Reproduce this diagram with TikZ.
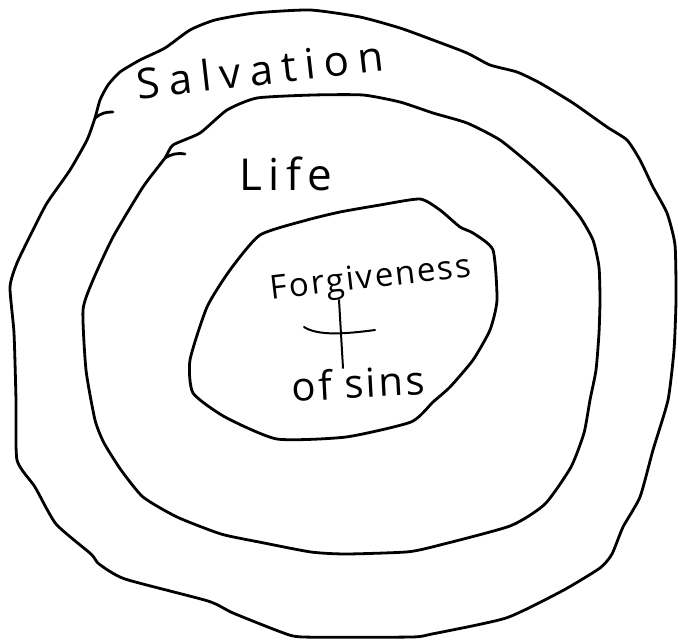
\documentclass[tikz,border=0pt]{standalone}
\usepackage{fontspec}
\setmainfont{Open Sans}
\usepackage{tikz}
\newcommand{\bigHand}{\fontsize{42}{48}\selectfont\addfontfeature{LetterSpace=21}}
\newcommand{\lifeHand}{\fontsize{44}{50}\selectfont\addfontfeature{LetterSpace=14}}
\newcommand{\forgHand}{\fontsize{33}{38}\selectfont\addfontfeature{LetterSpace=6}}
\newcommand{\sinsHand}{\fontsize{40}{46}\selectfont\addfontfeature{LetterSpace=6}}

\begin{document}
\begin{tikzpicture}[x=1pt,y=-1pt,
  pen/.style={line width=2.8pt,line join=round,line cap=round},
  hand/.style={inner sep=0pt,anchor=base,transform shape}]
\useasboundingbox (0,0) rectangle (678,641);

% ---------- outer ring ----------
\draw[pen] plot[smooth cycle,tension=0.35] coordinates {
  (95,118) (100,100) (108,85) (120,72) (140,60) (165,48) (190,30) (215,20)
  (255,13) (310,10) (360,17) (400,28) (433,40) (467,53) (490,65) (517,72)
  (540,83) (573,103) (607,127) (627,140) (640,160) (653,187) (667,213)
  (675,245) (676,300) (674,350) (668,400) (653,450) (640,497) (623,527)
  (612,554) (600,568) (562,591) (506,618) (432,634) (411,637) (303,637)
  (281,632) (233,613) (208,601) (125,579) (99,564) (91,554) (56,524)
  (35,487) (17,460) (16,400) (14,333) (10,287) (17,263) (33,230) (47,203)
  (70,170) (87,140)};
\draw[pen] (95,118) to[bend left=20] (113,112);

% ---------- middle ring ----------
\draw[pen] plot[smooth cycle,tension=0.35] coordinates {
  (165,158) (173,145) (200,133) (227,110) (257,98) (313,95) (363,95)
  (400,102) (433,113) (467,123) (500,140) (533,167) (560,193) (580,217)
  (593,240) (599,267) (600,300) (599,333) (596,370) (590,400) (584,433)
  (571,467) (545,504) (510,526) (432,547) (406,552) (346,554) (311,552)
  (259,542) (221,534) (177,517) (143,497) (121,470) (104,443) (95,420)
  (86,370) (83,310) (93,280) (113,237) (143,187)};
\draw[pen] (165,158) to[bend left=20] (185,154);

% ---------- inner ring ----------
\draw[pen] plot[smooth cycle,tension=0.35] coordinates {
  (307,220) (340,212) (380,205) (420,199) (440,210) (460,227) (473,233)
  (493,250) (497,300) (490,330) (473,360) (450,387) (433,402) (411,422)
  (346,437) (277,439) (225,417) (193,393) (190,360) (207,307) (230,270)
  (260,235)};

% ---------- labels ----------
\node[hand,font=\bigHand,rotate=6.5] (salv) at (262,85) {Salvation};
\node[hand,font=\lifeHand] (life) at (286,190) {Life};
\node[hand,font=\forgHand,rotate=6.7] (forg) at (372,288) {Forgiveness};
\node[hand,font=\sinsHand,rotate=3] (sins) at (359,398) {of sins};

% cross
\draw[line width=2pt,line cap=round] (339,300) -- (343,368);
\draw[line width=2pt,line cap=round] (304,327) .. controls (318,336) and (345,334) .. (375,330);
\end{tikzpicture}
\end{document}
